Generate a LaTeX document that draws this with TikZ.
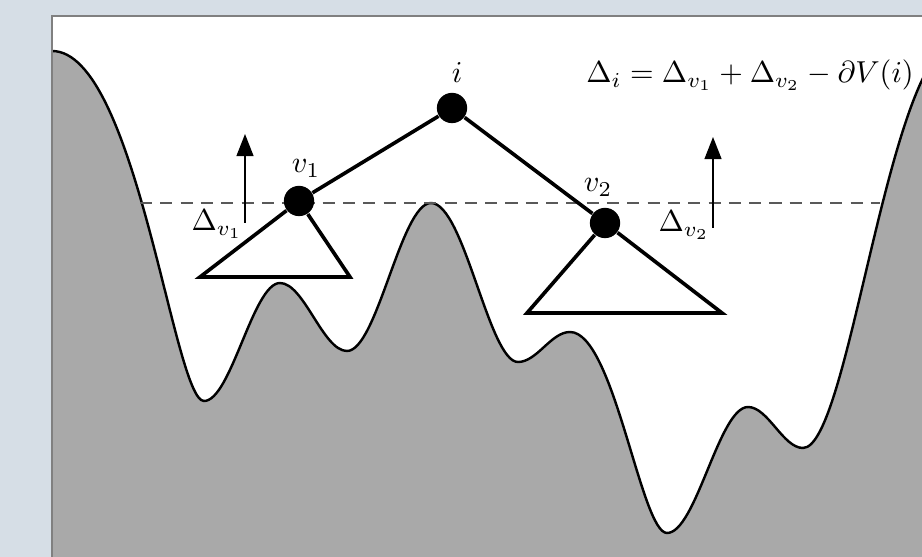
\documentclass[tikz,border=0pt]{standalone}
\usetikzlibrary{arrows.meta}
\definecolor{pagebg}{RGB}{214,222,230}
\definecolor{hillgray}{RGB}{169,169,169}
\definecolor{framegray}{RGB}{128,128,128}
\begin{document}
\begin{tikzpicture}[x=0.33pt, y=-0.33pt,
  vtx/.style={circle, fill=black, inner sep=0pt, minimum size=10pt},
  edge/.style={line width=1.2pt},
  rise/.style={line width=0.5pt, -{Triangle[length=7.3pt, width=5.6pt]}},
  level/.style={line width=0.5pt, gray!70!black, dash pattern=on 4pt off 2.7pt},
  lbl/.style={inner sep=0pt, anchor=base}]

\useasboundingbox (0,0) rectangle (922,557);
\fill[pagebg] (0,0) rectangle (922,557);

% ---------- лист с рельефом (обрезан снизу и справа)
\begin{scope}
  \clip (52,16) rectangle (940,570);
  \fill[white] (52,16) rectangle (940,570);
  % профиль: отрезки между соседними экстремумами, касательные горизонтальны
  \filldraw[fill=hillgray, draw=black, line width=0.8pt]
    (40,50) -- (52,51)
    .. controls (136,51) and (174,401) .. (204,401)
    .. controls (231,401) and (253,283) .. (280,283)
    .. controls (304,283) and (323,351) .. (347,351)
    .. controls (377,351) and (401,203) .. (431,203)
    .. controls (464,203) and (489,362) .. (518,362)
    .. controls (537,362) and (551,332) .. (570,332)
    .. controls (614,332) and (641,533) .. (667,533)
    .. controls (696,533) and (719,407) .. (748,407)
    .. controls (768,407) and (783,448) .. (803,448)
    .. controls (850,448) and (889,40) .. (960,40)
    -- (960,580) -- (40,580) -- cycle;
\end{scope}
\draw[framegray, line width=0.6pt] (52,570) -- (52,16) -- (940,16);

% ---------- уровень отсечения
\coordinate (dl) at (140,203);
\coordinate (dr) at (880,203);
\draw[level] (dl) -- (dr);

% ---------- дерево
\node[vtx] (i)  at (452,108) {};
\node[vtx] (v1) at (299,201) {};
\node[vtx] (v2) at (605,223) {};
\coordinate (t1l) at (200,277);
\coordinate (t1r) at (350,277);
\coordinate (t2l) at (527,313);
\coordinate (t2r) at (722,313);
\draw[edge] (i) -- (v1);
\draw[edge] (i) -- (v2);
\draw[edge] (v1) -- (t1l) -- (t1r) -- (v1);
\draw[edge] (v2) -- (t2l) -- (t2r) -- (v2);

\node[lbl] (li)  at (457,83)  {$i$};
\node[lbl] (lv1) at (306,173) {$v_1$};
\node[lbl] (lv2) at (598,192) {$v_2$};

% ---------- приращения
\coordinate (a1s) at (245,223);
\coordinate (a1e) at (245,134);
\coordinate (a2s) at (713,228);
\coordinate (a2e) at (713,137);
\draw[rise] (a1s) -- (a1e);
\draw[rise] (a2s) -- (a2e);
\node[lbl] (dv1) at (217,231) {$\Delta_{v_1}$};
\node[lbl] (dv2) at (684,232) {$\Delta_{v_2}$};

\node[lbl] (eq) at (750,83) {$\Delta_i = \Delta_{v_1} + \Delta_{v_2} - \partial V(i)$};
\end{tikzpicture}
\end{document}
